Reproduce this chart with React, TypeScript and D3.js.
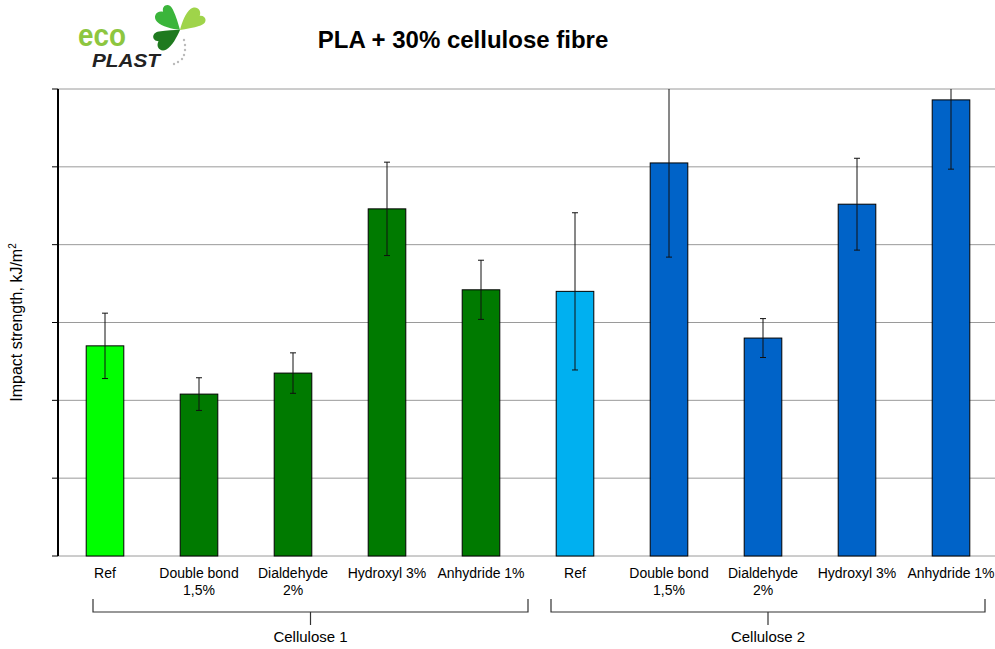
import React from "react";
import * as d3 from "d3";

const categories = [
  "Ref", "Double bond|1,5%", "Dialdehyde|2%", "Hydroxyl 3%", "Anhydride 1%",
  "Ref", "Double bond|1,5%", "Dialdehyde|2%", "Hydroxyl 3%", "Anhydride 1%",
];
const values = [2.70, 2.08, 2.35, 4.46, 3.42, 3.40, 5.05, 2.80, 4.52, 5.86];
const errors = [0.42, 0.21, 0.26, 0.60, 0.38, 1.01, 1.21, 0.25, 0.59, 0.89];
const barColors = [
  "#00ff00", "#007a00", "#007a00", "#007a00", "#007a00",
  "#00b0f0", "#0063c8", "#0063c8", "#0063c8", "#0063c8",
];
const groups = [
  { name: "Cellulose 1", first: 0, last: 4 },
  { name: "Cellulose 2", first: 5, last: 9 },
];
const yTicks = [0, 1, 2, 3, 4, 5, 6];

const W = 995, H = 649;
const left = 58, right = 998, top = 89, bottom = 556;
const FONT = "'Liberation Sans', Arial, Helvetica, sans-serif";
const LEAF = "M0,0 C-6,-4 -14,-10 -16,-16 C-18,-22 -12,-26 -7,-22 C-6,-28 2,-28 2,-20 C2,-12 1,-6 0,0 Z";

export default function App() {
  const idx = categories.map((_, i) => i);
  const x = d3.scaleBand<number>().domain(idx).range([left, right]).padding(0);
  const y = d3.scaleLinear().domain([0, 6]).range([bottom, top]);
  const bw = x.step() * 0.4;
  const cx = (i: number) => (x(i) as number) + x.bandwidth() / 2;

  return (
    <svg width={W} height={H} style={{ position: "absolute", left: 0, top: 0, background: "#fff" }} fontFamily={FONT}>
      <defs>
        <clipPath id="plot">
          <rect x={left - 5} y={top} width={W} height={bottom - top + 2} />
        </clipPath>
      </defs>
      <rect width={W} height={H} fill="#fff" />

      {/* logo */}
      <g>
        <text x={78} y={46} fontSize={31} fill="#8dc63f" fontFamily={FONT} textLength={48} lengthAdjust="spacingAndGlyphs" fontWeight="bold">eco</text>
        <text x={92} y={67} fontSize={19} fontWeight="bold" fontStyle="italic" fill="#222" fontFamily={FONT} textLength={68} lengthAdjust="spacingAndGlyphs">PLAST</text>
        <g transform="translate(180,30)">
          <path d={LEAF} fill="#3bb53b" transform="rotate(-25) scale(1.08)" />
          <path d={LEAF} fill="#9fd44a" transform="rotate(72) scale(1.05)" />
          <path d={LEAF} fill="#1f7a1f" transform="rotate(-100) scale(1.05)" />
        </g>
        {[[184, 40], [185, 45], [185, 50], [184, 55], [182, 59], [178, 62], [174, 64]].map(([a, b], i) => (
          <circle key={i} cx={a} cy={b} r={1.2} fill="#bbb" />
        ))}
      </g>

      {/* title */}
      <text x={463} y={48} textAnchor="middle" fontSize={24} fontWeight="bold" fill="#000">PLA + 30% cellulose fibre</text>

      {/* gridlines */}
      {yTicks.map((t) => (
        <line key={t} x1={left} x2={995} y1={y(t)} y2={y(t)} stroke="#9a9a9a" strokeWidth={1} />
      ))}
      {/* ticks */}
      {yTicks.map((t) => (
        <line key={"t" + t} x1={52} x2={left} y1={y(t)} y2={y(t)} stroke="#000" strokeWidth={1} />
      ))}

      {/* bars */}
      {values.map((v, i) => (
        <rect key={i} x={cx(i) - bw / 2} y={y(v)} width={bw} height={bottom - y(v)} fill={barColors[i]} stroke="#000" strokeWidth={1} />
      ))}

      {/* error bars */}
      <g clipPath="url(#plot)">
        {values.map((v, i) => (
          <g key={i} stroke="#111" strokeWidth={1}>
            <line x1={cx(i)} x2={cx(i)} y1={y(v + errors[i])} y2={y(v - errors[i])} />
            <line x1={cx(i) - 3} x2={cx(i) + 3} y1={y(v + errors[i])} y2={y(v + errors[i])} />
            <line x1={cx(i) - 3} x2={cx(i) + 3} y1={y(v - errors[i])} y2={y(v - errors[i])} />
          </g>
        ))}
      </g>

      {/* y axis line */}
      <line x1={left} x2={left} y1={top} y2={bottom} stroke="#000" strokeWidth={2} />

      {/* y label */}
      <text transform={`translate(22,${(top + bottom) / 2}) rotate(-90)`} textAnchor="middle" fontSize={16} fill="#000">
        Impact strength, kJ/m<tspan dy={-6} fontSize={10}>2</tspan>
      </text>

      {/* category labels */}
      {categories.map((c, i) => (
        <text key={i} x={cx(i)} y={578} textAnchor="middle" fontSize={14} fill="#000">
          {c.split("|").map((ln, j) => (
            <tspan key={j} x={cx(i)} dy={j === 0 ? 0 : 17}>{ln}</tspan>
          ))}
        </text>
      ))}

      {/* group brackets */}
      {groups.map((g, k) => {
        const xl = k === 0 ? 93 : 551;
        const xr = k === 0 ? 528 : 985;
        const mid = (xl + xr) / 2;
        return (
          <g key={g.name} stroke="#333" strokeWidth={1.2} fill="none">
            <path d={`M${xl},599 V612 H${xr} V599`} />
            <line x1={mid} x2={mid} y1={612} y2={625} />
            <text x={mid} y={642} textAnchor="middle" fontSize={15} fill="#000" stroke="none">{g.name}</text>
          </g>
        );
      })}
    </svg>
  );
}
